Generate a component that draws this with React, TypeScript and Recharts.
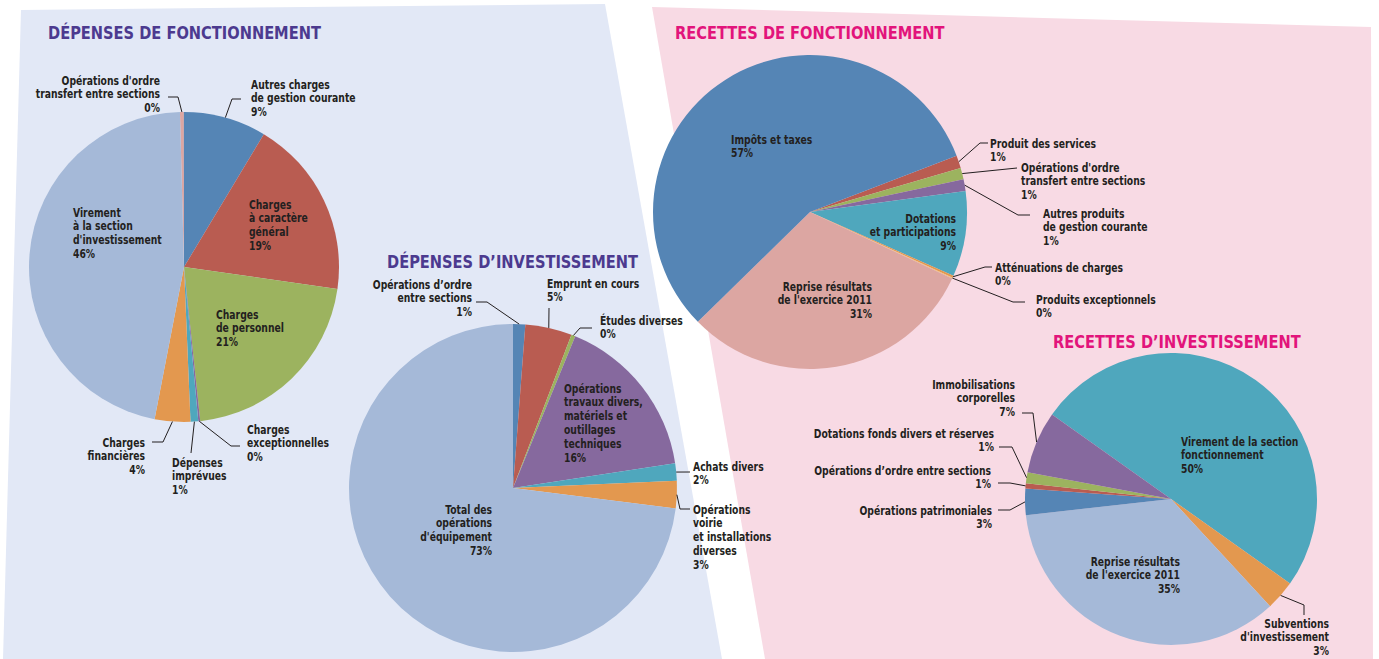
import { Cell, Pie, PieChart } from "recharts";

const W = 1379;
const H = 659;
const RAD = Math.PI / 180;

const BLUE = "#5585B5";
const RED = "#B95C51";
const GREEN = "#9CB35F";
const PURPLE = "#86699E";
const TEAL = "#4FA7BD";
const ORANGE = "#E3984F";
const LIGHT = "#A5B9D8";
const PINK = "#DCA6A2";
const INK = "#231F20";
const FONT = "'Liberation Sans Narrow', 'DejaVu Sans Condensed', 'Open Sans', sans-serif";
// the installed condensed face is still wider than the original, squeeze it a bit
const SQUEEZE = 0.79;

// Dépenses de fonctionnement
const depFonctNames = [
  "Opérations d'ordre\ntransfert entre sections",
  "Autres charges\nde gestion courante",
  "Charges\nà caractère\ngénéral",
  "Charges\nde personnel",
  "Charges\nexceptionnelles",
  "Dépenses\nimprévues",
  "Charges\nfinancières",
  "Virement\nà la section\nd'investissement",
];
const depFonctValues = [0.4, 8.6, 18.6, 21.0, 0.2, 0.8, 3.7, 46.4];
const depFonctColors = [PINK, BLUE, RED, GREEN, PURPLE, TEAL, ORANGE, LIGHT];

// Dépenses d'investissement
const depInvNames = [
  "Opérations d’ordre\nentre sections",
  "Emprunt en cours",
  "Études diverses",
  "Opérations\ntravaux divers,\nmatériels et\noutillages\ntechniques",
  "Achats divers",
  "Opérations\nvoirie\net installations\ndiverses",
  "Total des\nopérations\nd'équipement",
];
const depInvValues = [1.2, 4.6, 0.4, 16.4, 1.7, 2.7, 73.0];
const depInvColors = [BLUE, RED, GREEN, PURPLE, TEAL, ORANGE, LIGHT];

// Recettes de fonctionnement
const recFonctNames = [
  "Produit des services",
  "Opérations d'ordre\ntransfert entre sections",
  "Autres produits\nde gestion courante",
  "Dotations\net participations",
  "Atténuations de charges",
  "Produits exceptionnels",
  "Reprise résultats\nde l'exercice 2011",
  "Impôts et taxes",
];
const recFonctValues = [1.3, 1.2, 1.2, 8.8, 0.2, 0.1, 30.7, 56.5];
const recFonctColors = [RED, GREEN, PURPLE, TEAL, ORANGE, "#F2C07A", PINK, BLUE];

// Recettes d'investissement
const recInvNames = [
  "Virement de la section\nfonctionnement",
  "Subventions\nd'investissement",
  "Reprise résultats\nde l'exercice 2011",
  "Opérations patrimoniales",
  "Opérations d’ordre entre sections",
  "Dotations fonds divers et réserves",
  "Immobilisations\ncorporelles",
];
const recInvValues = [50.0, 3.3, 35.1, 2.9, 0.6, 1.2, 6.9];
const recInvColors = [TEAL, ORANGE, LIGHT, BLUE, RED, GREEN, PURPLE];

type Place = { x: number; y: number; anchor: "start" | "end"; elbows?: number[][] };

// label positions relative to the pie centre
const depFonctPlaces: Place[] = [
  { x: -24, y: -187, anchor: "end", elbows: [[-6, -170], [-16, -170]] },
  { x: 67, y: -183, anchor: "start", elbows: [[48, -168], [57, -168]] },
  { x: 65, y: -63, anchor: "start" },
  { x: 32, y: 47, anchor: "start" },
  { x: 63, y: 162, anchor: "start", elbows: [[47, 179], [56, 179]] },
  { x: -12, y: 195, anchor: "start", elbows: [[7, 186]] },
  { x: -39, y: 175, anchor: "end", elbows: [[-21, 175], [-32, 175]] },
  { x: -111, y: -55, anchor: "start" },
];
const depInvPlaces: Place[] = [
  { x: -41, y: -204, anchor: "end", elbows: [[-26, -186], [-37, -186]] },
  { x: 34, y: -205, anchor: "start", elbows: [[36, -180]] },
  { x: 87, y: -168, anchor: "start", elbows: [[67, -160], [79, -160]] },
  { x: 51, y: -100, anchor: "start" },
  { x: 180, y: -22, anchor: "start", elbows: [[177, -16]] },
  { x: 180, y: 21, anchor: "start", elbows: [[167, 21], [177, 21]] },
  { x: -21, y: 21, anchor: "end" },
];
const recFonctPlaces: Place[] = [
  { x: 180, y: -69, anchor: "start", elbows: [[170, -69], [178, -69]] },
  { x: 211, y: -45, anchor: "start", elbows: [[207, -44]] },
  { x: 233, y: 1, anchor: "start", elbows: [[208, 3], [220, 3]] },
  { x: 146, y: 6, anchor: "end" },
  { x: 185, y: 55, anchor: "start", elbows: [[175, 55], [182, 55]] },
  { x: 226, y: 87, anchor: "start", elbows: [[203, 90], [215, 90]] },
  { x: 62, y: 74, anchor: "end" },
  { x: -79, y: -73, anchor: "start" },
];
const recInvPlaces: Place[] = [
  { x: 10, y: -58, anchor: "start" },
  { x: 158, y: 124, anchor: "end", elbows: [[133, 106], [133, 116]] },
  { x: 9, y: 62, anchor: "end" },
  { x: -179, y: 11, anchor: "end", elbows: [[-161, 11], [-173, 11]] },
  { x: -180, y: -29, anchor: "end", elbows: [[-161, -16], [-173, -16]] },
  { x: -177, y: -66, anchor: "end", elbows: [[-159, -52], [-172, -52]] },
  { x: -156, y: -115, anchor: "end", elbows: [[-138, -86], [-149, -86]] },
];

const toRows = (names: string[], values: number[]) =>
  names.map((name, i) => ({ name, value: values[i] }));

function makeLabel(names: string[], values: number[], places: Place[]) {
  return (props: any) => {
    const { cx, cy, midAngle, outerRadius, index } = props;
    const p = places[index];
    if (!p) return null;
    const lines = [...names[index].split("\n"), `${Math.round(values[index])}%`];
    let leader = null;
    if (p.elbows) {
      const a = -midAngle * RAD;
      const pts = [
        [cx + outerRadius * Math.cos(a), cy + outerRadius * Math.sin(a)],
        ...p.elbows.map(([ex, ey]) => [cx + ex, cy + ey]),
      ];
      leader = (
        <polyline
          points={pts.map((q) => q.join(",")).join(" ")}
          fill="none"
          stroke={INK}
          strokeWidth={1}
        />
      );
    }
    return (
      <g>
        {leader}
        <g transform={`translate(${cx + p.x},${cy + p.y + 4.5}) scale(${SQUEEZE},1)`}>
          <text
            x={0}
            y={0}
            textAnchor={p.anchor}
            fontFamily={FONT}
            fontSize={13}
            fontWeight={700}
            fill={INK}
          >
            {lines.map((l, i) => (
              <tspan key={i} x={0} dy={i === 0 ? 0 : 14}>
                {l}
              </tspan>
            ))}
          </text>
        </g>
      </g>
    );
  };
}

function Title({ x, y, color, text }: { x: number; y: number; color: string; text: string }) {
  return (
    <g transform={`translate(${x},${y}) scale(0.93,1)`}>
      <text x={0} y={0} fill={color} fontFamily={FONT} fontSize={17.5} fontWeight={700}>
        {text}
      </text>
    </g>
  );
}

export default function App() {
  return (
    <div style={{ position: "relative", width: W, height: H, background: "#fff" }}>
      <style>{"body{margin:0}"}</style>
      <svg width={W} height={H} style={{ position: "absolute", left: 0, top: 0 }}>
        <polygon points="21,10 605,4 722,659 3,659" fill="#E2E8F6" />
        <polygon points="652,7 1371,27 1373,659 765,659" fill="#F8DAE4" />
        <Title x={48} y={39} color="#4C3A8F" text="DÉPENSES DE FONCTIONNEMENT" />
        <Title x={387} y={268} color="#4C3A8F" text="DÉPENSES D’INVESTISSEMENT" />
        <Title x={675} y={39} color="#E2147B" text="RECETTES DE FONCTIONNEMENT" />
        <Title x={1053} y={348} color="#E2147B" text="RECETTES D’INVESTISSEMENT" />
      </svg>
      <div style={{ position: "absolute", left: 0, top: 0 }}>
        <PieChart width={W} height={H} margin={{ top: 0, right: 0, bottom: 0, left: 0 }}>
          <Pie
            data={toRows(depFonctNames, depFonctValues)}
            dataKey="value"
            cx={184}
            cy={267}
            outerRadius={155}
            startAngle={91.5}
            endAngle={-268.5}
            stroke="none"
            labelLine={false}
            label={makeLabel(depFonctNames, depFonctValues, depFonctPlaces)}
            isAnimationActive={false}
          >
            {depFonctColors.map((c, i) => (
              <Cell key={i} fill={c} />
            ))}
          </Pie>
          <Pie
            data={toRows(depInvNames, depInvValues)}
            dataKey="value"
            cx={513}
            cy={488}
            outerRadius={164}
            startAngle={90}
            endAngle={-270}
            stroke="none"
            labelLine={false}
            label={makeLabel(depInvNames, depInvValues, depInvPlaces)}
            isAnimationActive={false}
          >
            {depInvColors.map((c, i) => (
              <Cell key={i} fill={c} />
            ))}
          </Pie>
          <Pie
            data={toRows(recFonctNames, recFonctValues)}
            dataKey="value"
            cx={810}
            cy={212}
            outerRadius={157}
            startAngle={21}
            endAngle={-339}
            stroke="none"
            labelLine={false}
            label={makeLabel(recFonctNames, recFonctValues, recFonctPlaces)}
            isAnimationActive={false}
          >
            {recFonctColors.map((c, i) => (
              <Cell key={i} fill={c} />
            ))}
          </Pie>
          <Pie
            data={toRows(recInvNames, recInvValues)}
            dataKey="value"
            cx={1171}
            cy={499}
            outerRadius={146}
            startAngle={144.6}
            endAngle={-215.4}
            stroke="none"
            labelLine={false}
            label={makeLabel(recInvNames, recInvValues, recInvPlaces)}
            isAnimationActive={false}
          >
            {recInvColors.map((c, i) => (
              <Cell key={i} fill={c} />
            ))}
          </Pie>
        </PieChart>
      </div>
    </div>
  );
}
